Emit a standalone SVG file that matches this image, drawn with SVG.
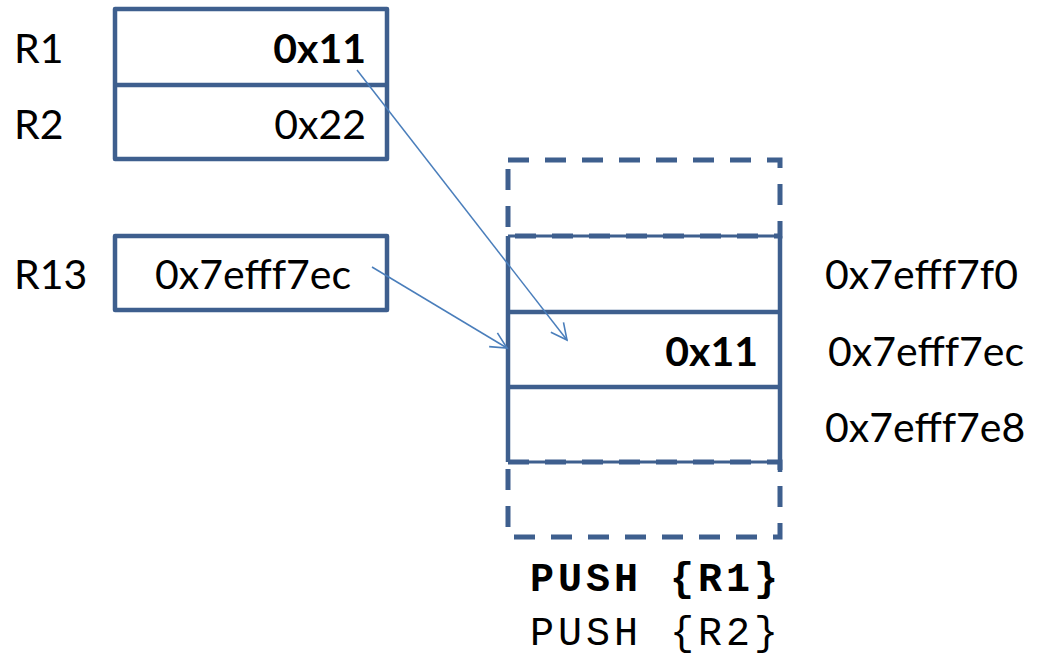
<svg xmlns="http://www.w3.org/2000/svg" width="1051" height="657" viewBox="0 0 1051 657">
<defs>
<style>
.box{fill:#fff;stroke:#3e5f8e;stroke-width:4.5;stroke-linejoin:round}
.line{stroke:#3e5f8e;stroke-width:4.5;fill:none}
.dash{fill:none;stroke:#3e5f8e;stroke-width:5;stroke-dasharray:21 16}
.t{font-family:Lato,"Liberation Sans",sans-serif;font-size:41px;fill:#000}
.b{font-weight:bold}
.mono{font-family:"Liberation Mono","Courier New",monospace;font-size:40px;fill:#000}
.conn{stroke:#4a7ebb;stroke-width:1.5;fill:none}
</style>
<marker id="arr" viewBox="0 0 20 20" refX="18" refY="10" markerWidth="20" markerHeight="20" markerUnits="userSpaceOnUse" orient="auto">
<path d="M2,2 L18,10 L2,18" fill="none" stroke="#4a7ebb" stroke-width="1.6"/>
</marker>
</defs>
<rect width="1051" height="657" fill="#fff"/>
<g id="reg12">
<rect class="box" x="115" y="9" width="272" height="150"/>
<line class="line" x1="115" y1="85" x2="387" y2="85"/>
<text class="t" x="14" y="63">R1</text>
<text class="t b" x="366" y="63" text-anchor="end">0x11</text>
<text class="t" x="14" y="139">R2</text>
<text class="t" x="366" y="139" text-anchor="end">0x22</text>
</g>
<g id="reg13">
<rect class="box" x="115" y="236" width="272" height="74"/>
<text class="t" x="14" y="289">R13</text>
<text class="t" x="155" y="289">0x7efff7ec</text>
</g>
<g id="stack">
<rect class="dash" x="508" y="160" width="272" height="76"/>
<rect class="dash" x="508" y="462" width="272" height="75"/>
<line class="line" x1="508" y1="236" x2="780" y2="236" style="stroke-width:3"/>
<line class="line" x1="508" y1="462" x2="780" y2="462" style="stroke-width:3"/>
<line class="line" x1="508" y1="236" x2="508" y2="462"/>
<line class="line" x1="780" y1="236" x2="780" y2="472"/>
<line class="line" x1="508" y1="312" x2="780" y2="312"/>
<line class="line" x1="508" y1="387" x2="780" y2="387"/>
<text class="t b" x="758" y="366" text-anchor="end">0x11</text>
</g>
<g id="addrs">
<text class="t" x="825" y="289">0x7efff7f0</text>
<text class="t" x="828" y="366">0x7efff7ec</text>
<text class="t" x="825" y="442">0x7efff7e8</text>
</g>
<g id="code">
<text class="mono b" x="530" y="591" textLength="248" lengthAdjust="spacing">PUSH {R1}</text>
<text class="mono" x="530" y="645" textLength="248" lengthAdjust="spacing">PUSH {R2}</text>
</g>
<g id="connectors">
<line class="conn" x1="357" y1="70" x2="567" y2="340" marker-end="url(#arr)"/>
<line class="conn" x1="372" y1="267" x2="507" y2="348" marker-end="url(#arr)"/>
</g>
</svg>
